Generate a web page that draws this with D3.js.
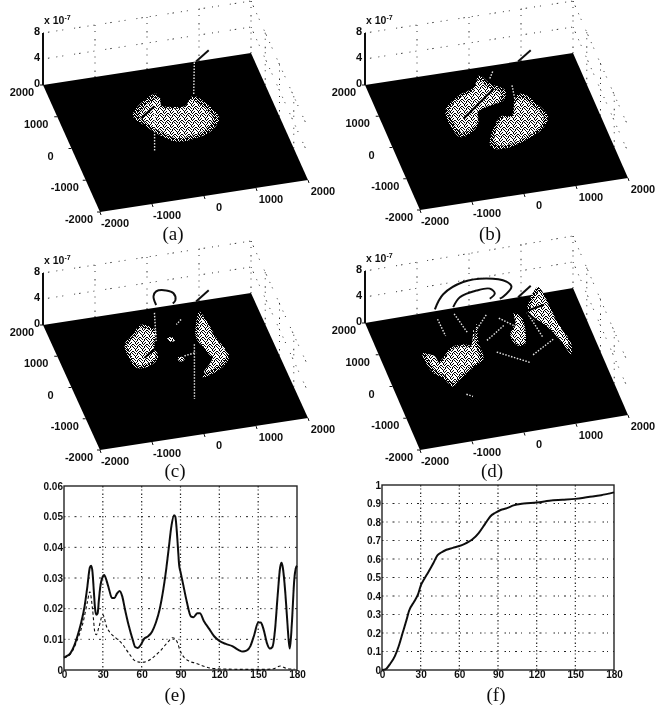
<!DOCTYPE html>
<html>
<head>
<meta charset="utf-8">
<script src="https://cdn.jsdelivr.net/npm/d3@7"></script>
<style>
    html, body { margin: 0; padding: 0; background: #fff; }
    text { font-family: "Liberation Sans", Arial, sans-serif; font-weight: bold; fill: #111; }
    text.caption { font-family: "Liberation Serif", "Times New Roman", serif; font-weight: normal; font-size: 19px; }
</style>
</head>
<body>
<svg id="chart" width="660" height="707"></svg>
<script>
// floor ticks and height ticks of the 3D panels
const floorTicks = [-2000, -1000, 0, 1000, 2000];
const zTicks = [0, 4, 8];

// response patches on the floor, [x, y] in floor units
const blobA = [[-33, 1236], [-74, 897], [158, 766], [407, 747], [603, 995], [805, 680], [905, 233], [692, -86], [325, -260], [-61, -271], [-306, 2], [-477, 308], [-635, 664], [-509, 897]];
const blobB1 = [[128, 1757], [270, 1457], [485, 1193], [374, 903], [21, 778], [-169, 666], [-264, 319], [-494, 58], [-701, 3], [-786, 394], [-754, 863], [-393, 1250], [-57, 1432]];
const blobB2 = [[-217, -328], [179, 421], [402, 420], [610, 951], [757, 1021], [945, 657], [1046, 208], [861, -117], [468, -390], [41, -550], [-198, -491]];
const blobC1 = [[-232, 1560], [-17, 1295], [-155, 906], [-203, 495], [-420, 284], [-674, 292], [-728, 676], [-693, 1038], [-462, 1299]];
const blobC2 = [[918, 1680], [975, 1422], [1006, 833], [1096, 228], [881, -90], [441, -300], [757, 152], [718, 480], [647, 921], [755, 1318]];
const blobC3 = [[130, 1060], [240, 1010], [230, 900], [140, 930]];
const blobC4 = [[150, 400], [260, 390], [250, 290], [150, 290]];
const blobD1 = [[-1210, 827], [-1074, 740], [-1022, 463], [-805, 674], [-661, 851], [-395, 891], [-236, 820], [-6, 1430], [-113, 875], [-158, 357], [-405, 153], [-783, -178], [-912, -305], [-1025, -13], [-1180, 237], [-1218, 564]];
const blobD2 = [[1379, 2202], [1438, 1764], [1455, 1124], [1535, 363], [1454, 66], [1385, 400], [1285, 848], [1189, 1084], [1004, 1341], [1011, 1604]];
const blobD3 = [[745, 1563], [855, 1378], [697, 569], [548, 606], [510, 933], [694, 1258]];

// pale stems and streaks on the floor, pairs of [x, y]
const paleA = [[[904, 1979], [635, 1040]], [[-220, 668], [-531, -472]]];
const paleB = [[[645, 1313], [583, 851]], [[300, 1620], [420, 1840]]];
const paleC = [[[102, 1849], [-98, 998]], [[563, 729], [116, -907]], [[288, 426], [525, 474]], [[527, 1532], [400, 1400]]];
const paleD = [[[-670, 1753], [-656, 1220]], [[-331, 1828], [-240, 1223]], [[-34, 1278], [247, 1654]], [[51, 887], [466, 1241]], [[436, 1481], [738, 1068]], [[135, 496], [647, 32]], [[766, 235], [1247, 593]], [[984, 1505], [1080, 687]], [[-735, -592], [-635, -691]]];

// dark stems lying across the patches
const darkA = [[[-500, 578], [-166, 867]]];
const darkB = [[[-493, 534], [289, 1295]]];
const darkC = [[[-442, 554], [-152, 799]]];
const darkD = [[[1000, 1560], [1350, 1650]], [[984, 1505], [1200, 950]]];

// curves rising off the back wall, [x, y, z]
const stemTop = [[944, 2000, 0], [1187, 2000, 1.44]];
const loopC = [[176, 2000, 0.4], [125, 2000, 1.8], [176, 2000, 2.5], [368, 2000, 2.4], [509, 2000, 1.8], [547, 2000, 0.7], [496, 2000, 0.25]];
const arcD1 = [[-656, 2000, 0.3], [-496, 2000, 2.4], [-112, 2000, 3.76], [336, 2000, 3.7], [720, 2000, 2.7], [816, 2000, 1.8], [656, 2000, 0.46], [592, 2000, 0.25]];
const arcD2 = [[-304, 2000, 0.15], [-176, 2000, 1.5], [144, 2000, 2.1], [400, 2000, 2.06], [496, 2000, 1.2], [400, 2000, 0.5]];

// panel (e)
const angleE = [0, 2, 5, 8, 10, 13, 16, 18, 20, 21, 22, 23, 24, 25, 26, 27, 28, 30, 31, 33, 35, 37, 39, 41, 43, 45, 47, 50, 53, 55, 57, 59, 61, 62, 65, 68, 71, 74, 77, 79, 81, 83, 85, 86, 87, 88, 89, 90, 92, 95, 98, 100, 103, 105, 108, 112, 116, 120, 125, 130, 135, 138, 141, 144, 147, 150, 152, 154, 157, 159, 161, 163, 165, 167, 168, 169, 171, 172, 174, 174.5, 176, 178, 179, 180];
const solidE = [0.004, 0.0045, 0.0055, 0.008, 0.0105, 0.015, 0.021, 0.027, 0.0335, 0.034, 0.032, 0.026, 0.02, 0.018, 0.0185, 0.023, 0.027, 0.0305, 0.031, 0.029, 0.026, 0.0235, 0.0235, 0.025, 0.0258, 0.024, 0.02, 0.0145, 0.01, 0.0075, 0.0072, 0.008, 0.0095, 0.0102, 0.011, 0.0125, 0.0155, 0.02, 0.027, 0.033, 0.04, 0.047, 0.0505, 0.05, 0.046, 0.04, 0.034, 0.032, 0.028, 0.022, 0.0175, 0.0172, 0.0185, 0.0185, 0.016, 0.0135, 0.011, 0.0095, 0.0085, 0.0078, 0.0065, 0.006, 0.0063, 0.0078, 0.0115, 0.0155, 0.0155, 0.0135, 0.0085, 0.007, 0.0075, 0.013, 0.024, 0.0335, 0.035, 0.0335, 0.025, 0.019, 0.008, 0.007, 0.015, 0.03, 0.033, 0.034];
const dashAngleE = [0, 5, 10, 15, 18, 20, 22, 24, 25, 27, 30, 33, 36, 40, 45, 50, 55, 60, 65, 70, 75, 80, 84, 87, 90, 93, 97, 102, 108, 115, 125, 140, 155, 162, 167, 172, 178];
const dashedE = [0.004, 0.0052, 0.0095, 0.016, 0.022, 0.0255, 0.02, 0.012, 0.0115, 0.014, 0.018, 0.014, 0.012, 0.0105, 0.0085, 0.0055, 0.003, 0.0025, 0.003, 0.0045, 0.0065, 0.009, 0.0105, 0.0095, 0.006, 0.004, 0.0028, 0.0022, 0.0012, 0.0005, 0.0003, 0.0002, 0.0002, 0.0004, 0.0013, 0.0005, 0.0003];
const yTicksE = [0, 0.01, 0.02, 0.03, 0.04, 0.05, 0.06];

// panel (f)
const angleF = [0, 3, 6, 10, 13, 16, 19, 21, 25, 28, 30, 33, 36, 40, 43, 46, 50, 55, 60, 65, 70, 75, 80, 84, 88, 92, 97, 102, 110, 120, 130, 140, 150, 160, 170, 180];
const solidF = [0, 0.005, 0.03, 0.075, 0.13, 0.2, 0.27, 0.32, 0.37, 0.41, 0.455, 0.495, 0.53, 0.58, 0.62, 0.635, 0.65, 0.66, 0.67, 0.685, 0.705, 0.74, 0.79, 0.83, 0.85, 0.865, 0.875, 0.89, 0.9, 0.905, 0.915, 0.92, 0.925, 0.935, 0.945, 0.96];
const yTicksF = [0, 0.1, 0.2, 0.3, 0.4, 0.5, 0.6, 0.7, 0.8, 0.9, 1];
const angleTicks = [0, 30, 60, 90, 120, 150, 180];

const svg = d3.select('#chart');
const defs = svg.append('defs');

defs.append('filter')
    .attr('id', 'scan')
    .attr('x', '-5%').attr('y', '-5%').attr('width', '110%').attr('height', '110%')
    .append('feGaussianBlur')
    .attr('stdDeviation', 0.4);

// halftone tiles: each string row is a row of pixels, 1 = white
function addSpeckle(id, rows) {
    const tile = defs.append('pattern')
        .attr('id', id)
        .attr('width', rows[0].length).attr('height', rows.length)
        .attr('patternUnits', 'userSpaceOnUse');
    tile.append('rect')
        .attr('width', rows[0].length).attr('height', rows.length)
        .attr('fill', '#000');
    rows.forEach((row, j) => {
        row.split('').forEach((c, i) => {
            if (c === '1') {
                tile.append('rect')
                    .attr('x', i).attr('y', j)
                    .attr('width', 1).attr('height', 1)
                    .attr('fill', '#fff');
            }
        });
    });
}
addSpeckle('speckle', ['1101011', '0110110', '1011101', '1101010', '0111011', '1010111', '1101101']);
addSpeckle('speckleEdge', ['1001010', '0100100', '1010001', '0001010', '0100101', '1010000', '0001001']);

const root = svg.append('g').attr('filter', 'url(#scan)');

const floorX = d3.scaleLinear().domain([-2000, 2000]).range([0, 1]);
const floorY = d3.scaleLinear().domain([-2000, 2000]).range([0, 1]);
const zScale = d3.scaleLinear().domain([0, 8]).range([0, 52]);

const gridDash = '1.5 3 1 5 2 4 1 7';
const wallDash = '1 4 1.5 7 1 5 1 11';

function createProjection(panel) {
    const [x0, y0] = panel.front;
    const [x1, y1] = panel.right;
    const [x2, y2] = panel.back;
    return (x, y, z = 0) => {
        const u = floorX(x);
        const v = floorY(y);
        return [
            x0 + u * (x1 - x0) + v * (x2 - x0),
            y0 + u * (y1 - y0) + v * (y2 - y0) - zScale(z)
        ];
    };
}

function drawSurface(panel) {
    const project = createProjection(panel);
    const g = root.append('g');
    const straight = d3.line().x(d => project(...d)[0]).y(d => project(...d)[1]);
    const smooth = d3.line().x(d => project(...d)[0]).y(d => project(...d)[1]).curve(d3.curveCatmullRom);
    const closed = d3.line().x(d => project(...d)[0]).y(d => project(...d)[1]).curve(d3.curveCatmullRomClosed.alpha(0.5));

    const wallLine = (a, b) => g.append('path')
        .attr('d', straight([a, b]))
        .attr('fill', 'none')
        .attr('stroke', '#333')
        .attr('stroke-width', 1)
        .attr('stroke-dasharray', wallDash);

    // back wall and right wall
    [4, 8].forEach(z => {
        wallLine([-2000, 2000, z], [2000, 2000, z]);
        wallLine([2000, 2000, z], [2000, -2000, z]);
    });
    [-1000, 0, 1000, 2000].forEach(x => wallLine([x, 2000, 0], [x, 2000, 8]));
    [1000, 0, -1000].forEach(y => wallLine([2000, y, 0], [2000, y, 8]));

    g.append('path')
        .attr('d', straight([[-2000, 2000, 0], [-2000, 2000, 8]]))
        .attr('fill', 'none')
        .attr('stroke', '#111')
        .attr('stroke-width', 2);

    panel.arcs.forEach(arc => {
        g.append('path')
            .attr('d', smooth(arc))
            .attr('fill', 'none')
            .attr('stroke', '#111')
            .attr('stroke-width', 2);
    });

    // floor
    g.append('path')
        .attr('d', straight([[-2000, -2000], [2000, -2000], [2000, 2000], [-2000, 2000]]) + 'Z')
        .attr('fill', '#000');

    g.append('path')
        .attr('d', straight(stemTop))
        .attr('fill', 'none')
        .attr('stroke', '#111')
        .attr('stroke-width', 2);

    panel.blobs.forEach(blob => {
        // sparse rim, dense core pulled in toward the patch centre
        const [cx, cy] = d3.polygonCentroid(blob);
        const core = blob.map(([x, y]) => [cx + (x - cx) * 0.85, cy + (y - cy) * 0.85]);
        g.append('path')
            .attr('d', closed(blob))
            .attr('fill', 'url(#speckleEdge)');
        g.append('path')
            .attr('d', closed(core))
            .attr('fill', 'url(#speckle)');
    });

    panel.pale.forEach(seg => {
        g.append('path')
            .attr('d', straight(seg))
            .attr('fill', 'none')
            .attr('stroke', '#e8e8e8')
            .attr('stroke-width', 1.4)
            .attr('stroke-dasharray', '1.5 1.5');
    });

    panel.dark.forEach(seg => {
        g.append('path')
            .attr('d', straight(seg))
            .attr('fill', 'none')
            .attr('stroke', '#000')
            .attr('stroke-width', 2.2);
    });

    // tick marks and labels along the floor edges
    floorTicks.forEach(t => {
        const [px, py] = project(t, -2000);
        g.append('line')
            .attr('x1', px).attr('y1', py)
            .attr('x2', px + 1).attr('y2', py + 3)
            .attr('stroke', '#111');
        g.append('text')
            .attr('x', px + 15).attr('y', py + 15)
            .attr('text-anchor', 'middle')
            .attr('font-size', 11)
            .text(t);

        const [qx, qy] = project(-2000, t);
        g.append('line')
            .attr('x1', qx).attr('y1', qy)
            .attr('x2', qx - 3).attr('y2', qy)
            .attr('stroke', '#111');
        g.append('text')
            .attr('x', qx - 21).attr('y', qy + 11)
            .attr('text-anchor', 'middle')
            .attr('font-size', 11)
            .text(t);
    });

    zTicks.forEach(t => {
        const [px, py] = project(-2000, 2000, t);
        g.append('text')
            .attr('x', px - 3).attr('y', py + 2)
            .attr('text-anchor', 'end')
            .attr('font-size', 11)
            .text(t);
    });

    const [ex, ey] = project(-2000, 2000, 8);
    const expo = g.append('text')
        .attr('x', ex + 1).attr('y', ey - 9)
        .attr('font-size', 10.5)
        .attr('font-weight', 'normal');
    expo.append('tspan').text('x 10');
    expo.append('tspan').attr('dy', -4).attr('font-size', 7).text('-7');

    g.append('text')
        .attr('class', 'caption')
        .attr('x', panel.caption[0]).attr('y', panel.caption[1])
        .attr('text-anchor', 'middle')
        .text(panel.label);
}

function drawCurves(panel) {
    const x = d3.scaleLinear().domain([0, 180]).range([panel.left, panel.right]);
    const y = d3.scaleLinear().domain(panel.yDomain).range([panel.bottom, panel.top]);
    const g = root.append('g');

    panel.yTicks.forEach(t => {
        if (t > panel.yDomain[0] && t < panel.yDomain[1]) {
            g.append('line')
                .attr('x1', panel.left).attr('x2', panel.right)
                .attr('y1', y(t)).attr('y2', y(t))
                .attr('stroke', '#222')
                .attr('stroke-dasharray', gridDash);
        }
    });
    angleTicks.slice(1, -1).forEach(t => {
        g.append('line')
            .attr('x1', x(t)).attr('x2', x(t))
            .attr('y1', panel.top).attr('y2', panel.bottom)
            .attr('stroke', '#222')
            .attr('stroke-width', 1.2)
            .attr('stroke-dasharray', '1.5 2 1 3');
    });

    const xAxis = g.append('g')
        .attr('transform', `translate(0,${panel.bottom})`)
        .call(d3.axisBottom(x).tickValues(angleTicks).tickSize(0).tickPadding(1));
    const yAxis = g.append('g')
        .attr('transform', `translate(${panel.left},0)`)
        .call(d3.axisLeft(y).tickValues(panel.yTicks).tickSize(0).tickPadding(1).tickFormat(d => d));
    [xAxis, yAxis].forEach(axis => {
        axis.select('.domain').remove();
        axis.selectAll('text').attr('font-size', 10).attr('font-family', null);
    });

    g.append('rect')
        .attr('x', panel.left).attr('y', panel.top)
        .attr('width', panel.right - panel.left)
        .attr('height', panel.bottom - panel.top)
        .attr('fill', 'none')
        .attr('stroke', '#222')
        .attr('stroke-width', 1.4);

    panel.series.forEach(s => {
        const line = d3.line()
            .x((d, i) => x(s.angle[i]))
            .y(d => y(d))
            .curve(d3.curveMonotoneX);
        g.append('path')
            .attr('d', line(s.values))
            .attr('fill', 'none')
            .attr('stroke', '#111')
            .attr('stroke-width', s.width)
            .attr('stroke-dasharray', s.dash);
    });

    g.append('text')
        .attr('class', 'caption')
        .attr('x', panel.caption[0]).attr('y', panel.caption[1])
        .attr('text-anchor', 'middle')
        .text(panel.label);
}

drawSurface({ label: '(a)', caption: [173, 240], front: [100, 212], right: [308, 180], back: [43, 85], blobs: [blobA], pale: paleA, dark: darkA, arcs: [] });
drawSurface({ label: '(b)', caption: [490, 240], front: [420, 210], right: [628, 178], back: [365, 85], blobs: [blobB1, blobB2], pale: paleB, dark: darkB, arcs: [] });
drawSurface({ label: '(c)', caption: [175, 477], front: [100, 450], right: [308, 418], back: [43, 325], blobs: [blobC1, blobC2, blobC3, blobC4], pale: paleC, dark: darkC, arcs: [loopC] });
drawSurface({ label: '(d)', caption: [492, 477], front: [420, 450], right: [628, 415], back: [365, 323], blobs: [blobD1, blobD2, blobD3], pale: paleD, dark: darkD, arcs: [arcD1, arcD2] });

drawCurves({
    label: '(e)', caption: [175, 701], left: 64, right: 297, top: 486, bottom: 670,
    yDomain: [0, 0.06], yTicks: yTicksE,
    series: [
        { angle: dashAngleE, values: dashedE, width: 1.1, dash: '3 2.5' },
        { angle: angleE, values: solidE, width: 2, dash: null }
    ]
});

drawCurves({
    label: '(f)', caption: [496, 701], left: 382, right: 614, top: 485, bottom: 670,
    yDomain: [0, 1], yTicks: yTicksF,
    series: [{ angle: angleF, values: solidF, width: 2, dash: null }]
});
</script>
</body>
</html>
